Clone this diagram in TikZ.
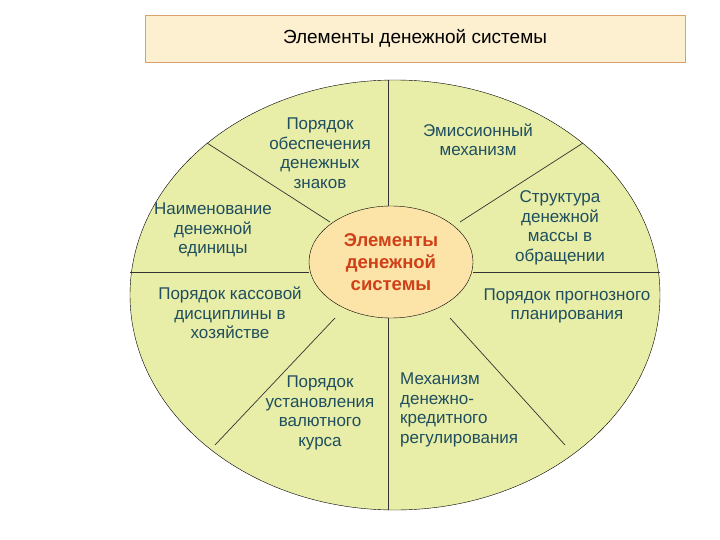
\documentclass[tikz,border=0pt]{standalone}
\usepackage{fontspec}
\usetikzlibrary{shapes.geometric}
\setmainfont{Liberation Sans}
\definecolor{outerfill}{HTML}{E8EDA8}
\definecolor{innerfill}{HTML}{FCE4A8}
\definecolor{titlefill}{HTML}{FDF0D0}
\definecolor{titlebd}{HTML}{D9A070}
\definecolor{lbl}{HTML}{1F4F5F}
\definecolor{ctr}{HTML}{D04018}
\begin{document}
\begin{tikzpicture}[x=1pt,y=-1pt,
  lab/.style={font=\fontsize{17}{19.5}\selectfont,text=lbl,align=center,inner sep=0pt},
  spoke/.style={draw=black!80,line width=0.7pt}]
\useasboundingbox (0,0) rectangle (720,540);
\fill[white] (0,0) rectangle (720,540);
\node[draw=titlebd,fill=titlefill,minimum width=540pt,minimum height=47pt,inner sep=0pt,font=\fontsize{19}{22}\selectfont] (title) at (415,38.5) {Элементы денежной системы};
\node[draw=black,fill=outerfill,ellipse,minimum width=530pt,minimum height=430pt,inner sep=0pt] (outer) at (395,295) {};
\coordinate (o1) at (388,80); \coordinate (i1) at (388,207);
\coordinate (o2) at (207,143); \coordinate (i2) at (330,222);
\coordinate (o3) at (130,272); \coordinate (i3) at (309,272);
\coordinate (o4) at (215,445); \coordinate (i4) at (335,318);
\coordinate (o5) at (388,510); \coordinate (i5) at (388,318);
\coordinate (o6) at (565,445); \coordinate (i6) at (450,318);
\coordinate (o7) at (660,272); \coordinate (i7) at (473,272);
\coordinate (o8) at (583,143); \coordinate (i8) at (460,222);
\foreach \k in {1,...,8} \draw[spoke] (o\k) -- (i\k);
\node[draw=black,fill=innerfill,ellipse,minimum width=164pt,minimum height=112pt,inner sep=0pt,
  font=\bfseries\fontsize{18.5}{22}\selectfont,text=ctr,align=center] (center) at (391,262) {Элементы\\денежной\\системы};
\node[lab] (t1) at (320,153) {Порядок\\обеспечения\\денежных\\знаков};
\node[lab] (t2) at (478,140) {Эмиссионный\\механизм};
\node[lab] (t3) at (213,230) {Наименование\\денежной\\единицы};
\node[lab] (t4) at (560,228) {Структура\\денежной\\массы в\\обращении};
\node[lab] (t5) at (230,313) {Порядок кассовой\\дисциплины в\\хозяйстве};
\node[lab] (t6) at (567,306) {Порядок прогнозного\\планирования};
\node[lab] (t7) at (320,413) {Порядок\\установления\\валютного\\курса};
\node[lab,align=left,anchor=west] (t8) at (400,410) {Механизм\\денежно-\\кредитного\\регулирования};
\end{tikzpicture}
\end{document}
